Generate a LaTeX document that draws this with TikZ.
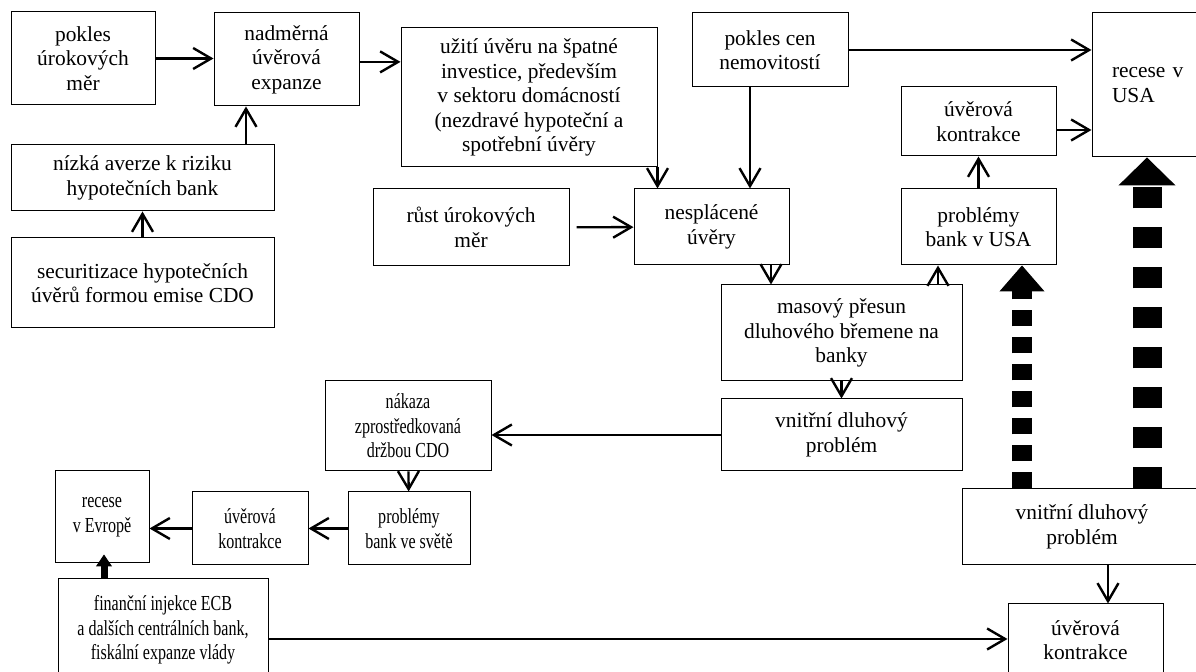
\documentclass[tikz,border=0pt]{standalone}
\usepackage{fontspec}
\setmainfont{Liberation Serif}
\newfontfamily\narrowfont[FakeStretch=0.75]{Liberation Serif}
\usetikzlibrary{arrows.meta}

\tikzset{
  box/.style={draw, line width=0.5pt, align=center, inner sep=0pt,
    font=\fontsize{10.7pt}{12.25pt}\selectfont},
  narrowbox/.style={box, font=\narrowfont\fontsize{10.7pt}{12.25pt}\selectfont},
  arr/.style={line width=1.2pt, -{Straight Barb[length=9pt,width=10.5pt]}},
}

\begin{document}
\begin{tikzpicture}[x=0.5pt, y=-0.5pt]
  \useasboundingbox (0,0) rectangle (1196,672);
  \clip (0,0) rectangle (1196,672);

  % causes of the credit expansion
  \node[box, minimum width=72pt, minimum height=46.5pt] (pokUrok) at (83,58.5) {pokles\\úrokových\\měr};
  \node[box, minimum width=72.5pt, minimum height=46.5pt] (expanze) at (286.5,59.5) {nadměrná\\úvěrová\\expanze};
  \node[box, minimum width=131.5pt, minimum height=33pt] (averze) at (142.5,178) {nízká averze k riziku\\hypotečních bank};
  \node[box, minimum width=131.5pt, minimum height=45pt] (securit) at (142.5,283) {securitizace hypotečních\\úvěrů formou emise CDO};

  % bad loans
  \node[box, minimum width=128pt, minimum height=69.5pt] (uziti) at (529,97.5) {užití úvěru na špatné\\investice, především\\v sektoru domácností\\(nezdravé hypoteční a\\spotřební úvěry};
  \node[box, minimum width=78pt, minimum height=37pt] (poklesCen) at (770,50) {pokles cen\\nemovitostí};
  \node[box, minimum width=98pt, minimum height=38.5pt] (rust) at (471,227.5) {růst úrokových\\měr};
  \node[box, minimum width=77.5pt, minimum height=38pt] (nesplacene) at (711.5,227) {nesplácené\\úvěry};
  \node[box, minimum width=120.5pt, minimum height=48pt] (masovy) at (841.5,333) {masový přesun\\dluhového břemene na\\banky};
  \node[box, minimum width=120.5pt, minimum height=36pt] (vnitrL) at (841.5,435) {vnitřní dluhový\\problém};

  % USA
  \node[box, minimum width=77.5pt, minimum height=34.5pt] (kontrUSA) at (978.5,121.5) {úvěrová\\kontrakce};
  \node[box, minimum width=77.5pt, minimum height=38pt] (problUSA) at (978.5,227) {problémy\\bank v USA};
  \node[box, align=left, text width=54pt, inner xsep=10pt, minimum height=72pt] (recUSA) at (1166,85) {recese v\\USA};
  \node[box, minimum width=120pt, minimum height=38pt] (vnitrR) at (1082,527) {vnitřní dluhový\\problém};
  \node[box, minimum width=77.5pt, minimum height=36pt] (kontrBot) at (1085.5,640) {úvěrová\\kontrakce};

  % Europe
  \node[narrowbox, minimum width=83pt, minimum height=45pt] (nakaza) at (408,426) {nákaza\\zprostředkovaná\\držbou CDO};
  \node[narrowbox, minimum width=61pt, minimum height=36.5pt] (problSvet) at (409,528.5) {problémy\\bank ve světě};
  \node[narrowbox, minimum width=58pt, minimum height=36.5pt] (kontrEU) at (250,528.5) {úvěrová\\kontrakce};
  \node[narrowbox, minimum width=47pt, minimum height=46pt] (recEU) at (102,517) {recese\\v Evropě};
  \node[narrowbox, minimum width=105pt, minimum height=51pt] (financni) at (163,630) {finanční injekce ECB\\a dalších centrálních bank,\\fiskální expanze vlády};

  % arrows
  \draw[arr] (pokUrok.east) -- (pokUrok.east -| expanze.west);
  \draw[arr] ([yshift=-1.2pt]expanze.east) -- ([yshift=-1.2pt]expanze.east -| uziti.west);
  \draw[arr] (246,0 |- averze.north) -- (246,0 |- expanze.south);
  \draw[arr] (securit) -- (averze);
  \draw[arr] (uziti.south east) -- (uziti.south east |- nesplacene.north);
  \draw[arr] (750,0 |- poklesCen.south) -- (750,0 |- nesplacene.north);
  \draw[arr, shorten <=3.5pt] (rust) -- (nesplacene);
  \draw[arr] (771,0 |- nesplacene.south) -- (771,0 |- masovy.north);
  \draw[arr] (938,0 |- masovy.north) -- (938,0 |- problUSA.south);
  \draw[arr] (masovy) -- (vnitrL);
  \draw[arr] (vnitrL.west) -- (vnitrL.west -| nakaza.east);
  \draw[arr] (nakaza) -- (problSvet);
  \draw[arr] (problSvet) -- (kontrEU);
  \draw[arr] (kontrEU.west) -- (kontrEU.west -| recEU.east);
  \draw[arr] (financni.east |- 0,639) -- (kontrBot.west |- 0,639);
  \draw[arr] (1108,0 |- vnitrR.south) -- (1108,0 |- kontrBot.north);
  \draw[arr] (poklesCen.east) -- (poklesCen.east -| recUSA.west);
  \draw[arr] (kontrUSA.east |- 0,130) -- (recUSA.west |- 0,130);
  \draw[arr] (problUSA) -- (kontrUSA);

  % thick arrows
  \draw[line width=10pt, dash pattern=on 8pt off 5.5pt,
    -{Triangle[length=13pt,width=22.5pt,line width=0.5pt]}]
    (1022,0 |- vnitrR.north) -- (1022,0 |- problUSA.south);
  \draw[line width=14.5pt, dash pattern=on 10.5pt off 9.5pt,
    -{Triangle[length=14pt,width=28.5pt,line width=0.5pt]}]
    (1147,0 |- vnitrR.north) -- (1147,0 |- recUSA.south);
  \draw[line width=3.5pt, shorten >=-4.5pt,
    -{Triangle[length=6pt,width=8pt,line width=0.5pt]}]
    (104,0 |- financni.north) -- (104,0 |- recEU.south);
\end{tikzpicture}
\end{document}
